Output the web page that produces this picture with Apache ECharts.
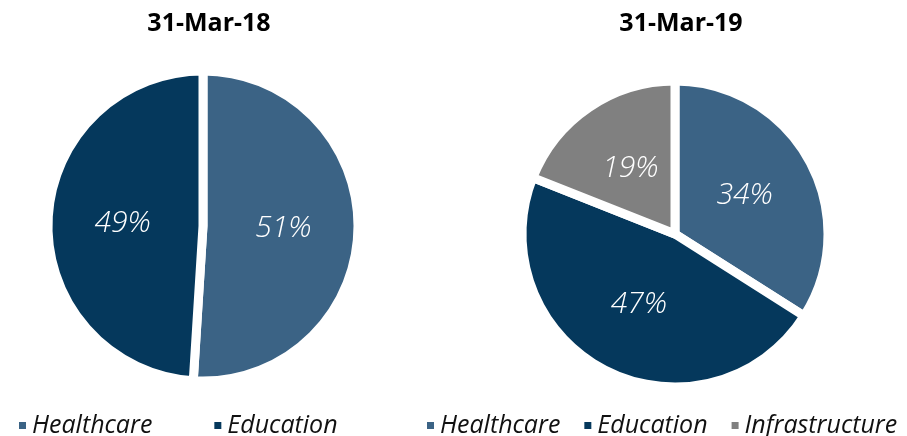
<!DOCTYPE html>
<html>
<head>
<meta charset="utf-8">
<script src="https://cdn.jsdelivr.net/npm/echarts@6/dist/echarts.min.js"></script>
<style>
  html, body { margin: 0; padding: 0; background: #fff; }
  #chart { width: 907px; height: 436px; }
</style>
</head>
<body>
<div id="chart"></div>
<script>
const titles = ['31-Mar-18', '31-Mar-19'];
const categories18 = ['Healthcare', 'Education'];
const values18 = [51, 49];
const categories19 = ['Healthcare', 'Education', 'Infrastructure'];
const values19 = [34, 47, 19];
const colors = { Healthcare: '#3B6385', Education: '#05385C', Infrastructure: '#808080' };

const chart = echarts.init(document.getElementById('chart'));
const font = '"Open Sans", "Noto Sans", sans-serif';

const sliceLabel = {
    show: true,
    position: 'inside',
    formatter: '{c}%',
    color: '#fff',
    fontSize: 30,
    fontStyle: 'italic',
    fontWeight: 300,
    fontFamily: font
};

function toData(cats, vals) {
    return cats.map((c, i) => ({ name: c, value: vals[i], itemStyle: { color: colors[c] } }));
}

const legendText = {
    fontSize: 25,
    fontStyle: 'italic',
    fontFamily: font,
    color: '#111'
};

const option = {
    animation: false,
    title: [
        {
            text: titles[0], left: 204, top: 6, textAlign: 'center',
            textStyle: { fontSize: 25, fontWeight: 'bold', fontFamily: font, color: '#000' }
        },
        {
            text: titles[1], left: 676, top: 6, textAlign: 'center',
            textStyle: { fontSize: 25, fontWeight: 'bold', fontFamily: font, color: '#000' }
        }
    ],
    legend: [
        {
            data: categories18, left: 12, top: 408, itemWidth: 9, itemHeight: 9,
            icon: 'rect', itemGap: 60, textStyle: legendText
        },
        {
            data: categories19, left: 420, top: 408,
            itemWidth: 9, itemHeight: 9, icon: 'rect', itemGap: 22, textStyle: legendText
        }
    ],
    series: [
        {
            type: 'pie',
            center: [203, 226],
            radius: 155,
            startAngle: 90,
            clockwise: true,
            data: toData(categories18, values18),
            itemStyle: { borderColor: '#fff', borderWidth: 9 },
            label: sliceLabel,
            labelLine: { show: false }
        },
        {
            type: 'pie',
            center: [675, 234],
            radius: 153,
            startAngle: 90,
            clockwise: true,
            data: toData(categories19, values19),
            itemStyle: { borderColor: '#fff', borderWidth: 9 },
            label: sliceLabel,
            labelLine: { show: false }
        }
    ]
};

chart.setOption(option);

window.addEventListener('resize', _ => {
    chart.resize();
});
</script>
</body>
</html>
